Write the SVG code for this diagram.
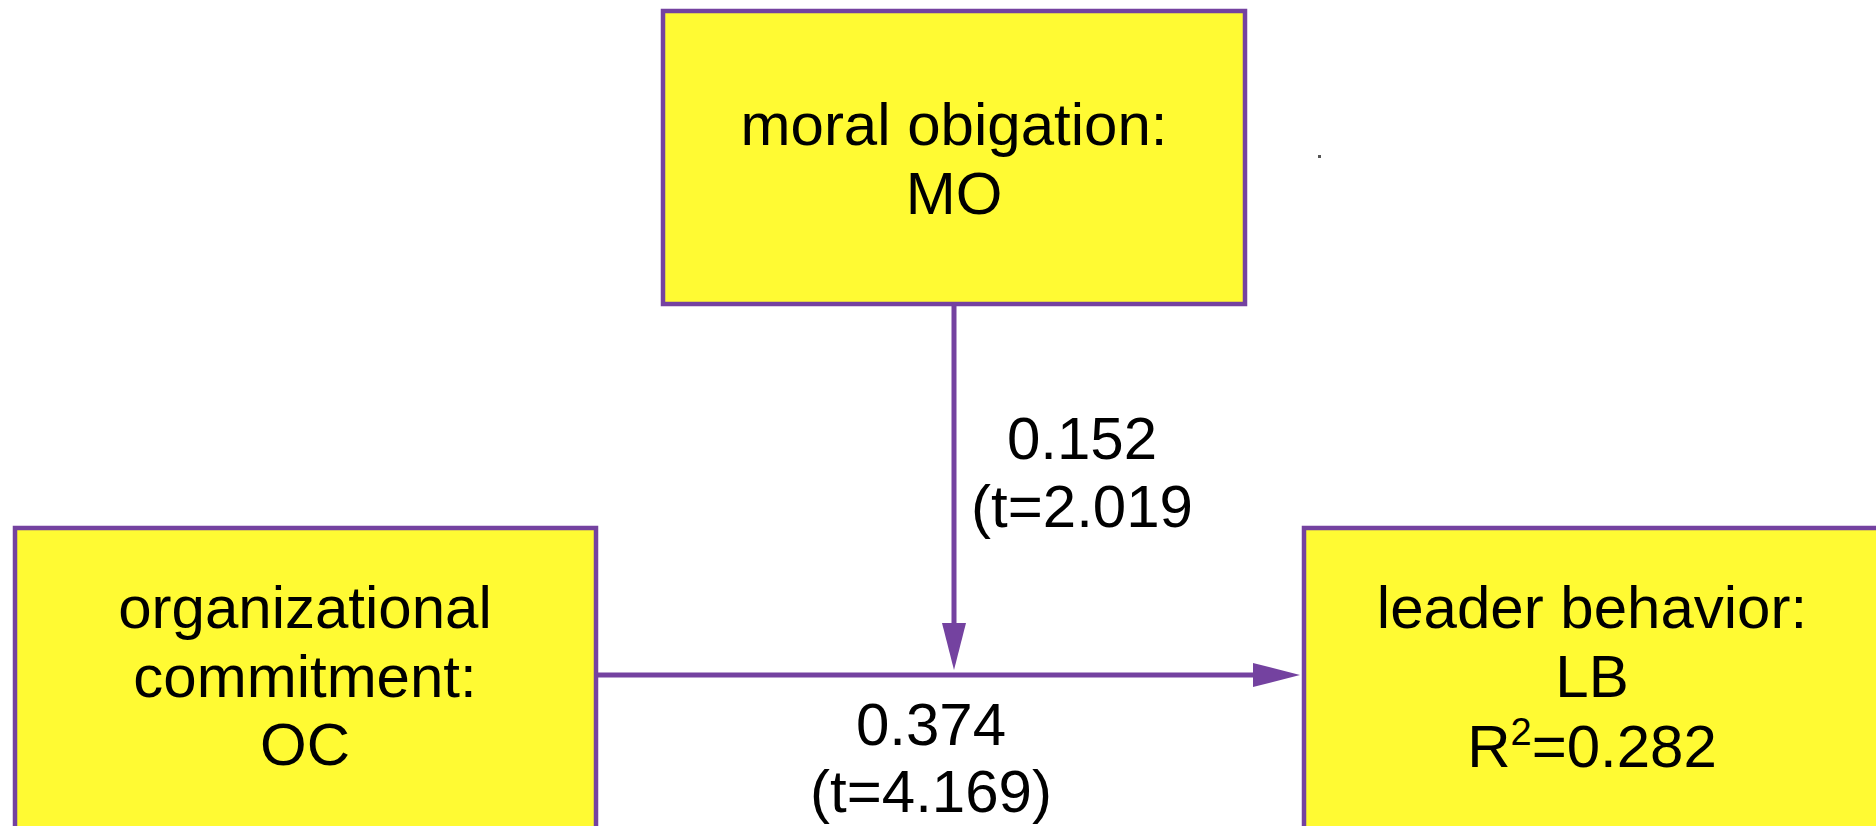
<svg xmlns="http://www.w3.org/2000/svg" width="1876" height="826" viewBox="0 0 1876 826">
<style>
.box{fill:#FFFA33;stroke:#7442A0;stroke-width:4.5}
.lbl{font-family:"Liberation Sans",Arial,sans-serif;font-size:60px;fill:#000;text-anchor:middle}
.conn{stroke:#7442A0;stroke-width:5;fill:none}
</style>
<defs>
<marker id="arr" markerUnits="userSpaceOnUse" markerWidth="48" markerHeight="26" refX="27" refY="13" orient="auto">
<path d="M0,1 L47,13 L0,25 z" fill="#7442A0"/>
</marker>
</defs>
<rect width="1876" height="826" fill="#ffffff"/>
<g id="connectors">
<line class="conn" x1="954" y1="304" x2="954" y2="650" marker-end="url(#arr)"/>
<line class="conn" x1="596" y1="675" x2="1280" y2="675" marker-end="url(#arr)"/>
<text class="lbl" x="1082" y="459">0.152</text>
<text class="lbl" x="1082" y="527">(t=2.019</text>
<text class="lbl" x="931" y="745">0.374</text>
<text class="lbl" x="931" y="812">(t=4.169)</text>
</g>
<g id="MO">
<rect class="box" x="663" y="11" width="582" height="293"/>
<text class="lbl" x="954" y="145">moral obigation:</text>
<text class="lbl" x="954" y="214">MO</text>
</g>
<g id="OC">
<rect class="box" x="15" y="528" width="581" height="320"/>
<text class="lbl" x="305" y="628">organizational</text>
<text class="lbl" x="305" y="697">commitment:</text>
<text class="lbl" x="305" y="765">OC</text>
</g>
<g id="LB">
<rect class="box" x="1304" y="528" width="600" height="320"/>
<text class="lbl" x="1592" y="628">leader behavior:</text>
<text class="lbl" x="1592" y="697">LB</text>
<text class="lbl" x="1592" y="767">R<tspan font-size="38" dy="-22">2</tspan><tspan dy="22">=0.282</tspan></text>
</g>
<rect x="1318" y="155" width="3" height="3" fill="#555"/>
</svg>
